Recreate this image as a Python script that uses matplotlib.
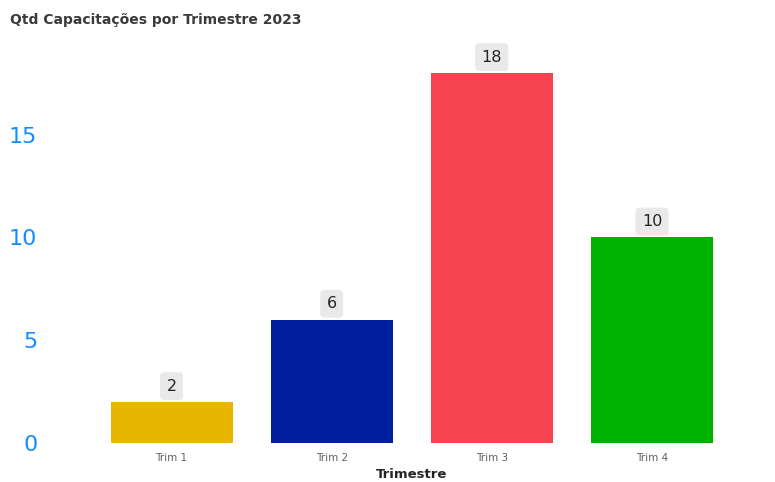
import matplotlib.pyplot as plt

trimestres = ["Trim 1", "Trim 2", "Trim 3", "Trim 4"]
qtd = [2, 6, 18, 10]
cores = ["#E8B500", "#001F9F", "#F7434F", "#00B200"]
yticks = [0, 5, 10, 15]

fig = plt.figure(figsize=(7.75, 4.82), dpi=100)
ax = fig.add_axes([91.5/775, 39/482, (732-91.5)/775, (443-42)/482])

x = range(len(trimestres))
bars = ax.bar(x, qtd, width=0.7625, color=cores)

for b, v in zip(bars, qtd):
    ax.annotate(str(v), (b.get_x() + b.get_width()/2, v), xytext=(0, 6),
                textcoords="offset points", ha="center", va="bottom",
                fontsize=11.5, color="#252423",
                bbox=dict(boxstyle="round,pad=0.4,rounding_size=0.25",
                          fc="#E9E9E9", ec="none"))

ax.set_xlim(-0.5, 3.5)
ax.set_ylim(0, 19.5)
ax.set_xticks(list(x))
ax.set_xticklabels(trimestres, fontsize=7.5, color="#605E5C")
ax.set_yticks(yticks)
ax.set_yticklabels([str(t) for t in yticks], fontsize=16, color="#118DFF")
ax.tick_params(axis="y", length=0, pad=39)
ax.tick_params(axis="x", length=0, pad=7)
for s in ax.spines.values():
    s.set_visible(False)

ax.set_xlabel("Trimestre", fontsize=9.5, color="#252423", fontweight="semibold", labelpad=4)

fig.text(10/775, 1 - 20/482, "Qtd Capacitações por Trimestre 2023", fontsize=10,
         fontweight="bold", color="#3a3a3a", va="center", ha="left")

fig.savefig("out.png", dpi=100)
